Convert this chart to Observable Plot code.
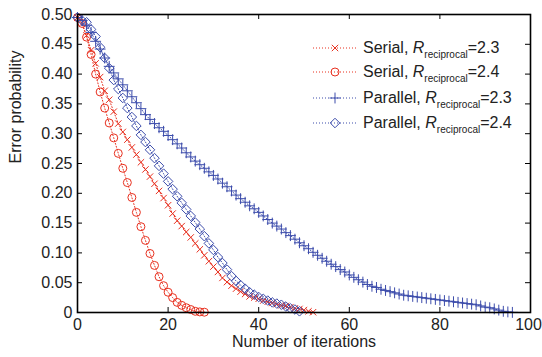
<!DOCTYPE html>
<html><head><meta charset="utf-8">
<script src="https://cdn.jsdelivr.net/npm/d3@7"></script>
<script src="https://cdn.jsdelivr.net/npm/@observablehq/plot@0.6"></script>
<style>body{margin:0;background:#fff} #chart{width:542px;height:357px}</style>
</head><body><div id="chart"></div>
<script>
const seriesNames = ["Serial 2.3", "Serial 2.4", "Parallel 2.3", "Parallel 2.4"];
const legendLabels = [["Serial, ", "2.3"], ["Serial, ", "2.4"], ["Parallel, ", "2.3"], ["Parallel, ", "2.4"]];
const seriesColors = ["#e8301f", "#e8301f", "#3c4cab", "#3c4cab"];
const seriesSymbols = ["times", "circle", "plus", "diamond2"];
const seriesR = [3, 4, 3.6, 4.3];

// error probability at iteration 0,1,2,...
const serial23 = [0.495,0.485,0.465,0.44,0.418,0.395,0.372,0.357,0.337,0.317,0.303,0.29,0.277,0.265,0.252,0.240,0.228,0.216,0.204,0.192,0.180,0.166,0.154,0.145,0.135,0.126,0.116,0.106,0.096,0.086,0.077,0.068,0.058,0.051,0.045,0.040,0.035,0.031,0.027,0.025,0.023,0.020,0.018,0.016,0.014,0.012,0.011,0.009,0.007,0.006,0.004,0.002,0.0005];
const serial24 = [0.495,0.485,0.462,0.433,0.400,0.370,0.343,0.318,0.293,0.267,0.242,0.218,0.193,0.168,0.144,0.121,0.099,0.079,0.060,0.045,0.034,0.025,0.017,0.012,0.008,0.005,0.002,0.001,0.0005];
const parallel23 = [0.495,0.49,0.482,0.47,0.455,0.442,0.427,0.413,0.402,0.392,0.382,0.372,0.362,0.352,0.342,0.332,0.324,0.317,0.310,0.304,0.297,0.290,0.283,0.276,0.268,0.261,0.254,0.248,0.242,0.236,0.230,0.224,0.217,0.211,0.204,0.197,0.191,0.185,0.179,0.174,0.168,0.162,0.156,0.150,0.145,0.140,0.134,0.129,0.123,0.117,0.112,0.107,0.101,0.096,0.091,0.086,0.081,0.077,0.072,0.068,0.063,0.059,0.055,0.051,0.047,0.044,0.042,0.039,0.037,0.035,0.033,0.031,0.029,0.028,0.027,0.026,0.025,0.024,0.023,0.022,0.021,0.020,0.019,0.018,0.017,0.016,0.015,0.014,0.013,0.011,0.009,0.008,0.006,0.004,0.002,0.001,0.0002];
const parallel24 = [0.495,0.49,0.487,0.475,0.463,0.445,0.427,0.41,0.39,0.375,0.36,0.343,0.328,0.313,0.298,0.286,0.273,0.259,0.246,0.233,0.220,0.207,0.195,0.184,0.173,0.162,0.151,0.140,0.128,0.116,0.105,0.093,0.083,0.072,0.061,0.053,0.046,0.040,0.034,0.030,0.026,0.023,0.020,0.017,0.015,0.013,0.010,0.007,0.005,0.002];

const xTicks = [0, 20, 40, 60, 80, 100];
const yTicks = [0, 0.05, 0.10, 0.15, 0.20, 0.25, 0.30, 0.35, 0.40, 0.45, 0.50];
const xLabel = "Number of iterations";
const yLabel = "Error probability";

const allSeries = [serial23, serial24, parallel23, parallel24];
const rows = [];
allSeries.forEach((vals, k) => vals.forEach((v, i) => rows.push({s: seriesNames[k], it: i, p: v})));

const W = 542, H = 357, mL = 77, mR = 12, mT = 14, mB = 45;
const pw = W - mL - mR, ph = H - mT - mB;
const font = "Liberation Sans, Arial, Helvetica, sans-serif";
const fs = 16;
const lastX = xTicks[xTicks.length - 1];

const marks = [
  Plot.line(rows, {x: "it", y: "p", z: "s", stroke: "s", strokeWidth: 1, strokeDasharray: "1 2"}),
  ...seriesNames.map((name, k) => Plot.dot(rows.filter(d => d.s === name), {
    x: "it", y: "p", stroke: seriesColors[k], symbol: () => seriesSymbols[k], r: seriesR[k], strokeWidth: 1, fill: "none"
  })),
  Plot.frame({stroke: "black", strokeWidth: 1.6}),
  Plot.tickX(xTicks, {x: d => d, insetTop: ph - 5, stroke: "black"}),
  Plot.tickX(xTicks, {x: d => d, insetBottom: ph - 5, stroke: "black"}),
  Plot.tickY(yTicks, {y: d => d, insetRight: pw - 5, stroke: "black"}),
  Plot.tickY(yTicks, {y: d => d, insetLeft: pw - 5, stroke: "black"}),
  Plot.axisX(xTicks.filter(d => d !== lastX), {tickSize: 0, tickPadding: 6, label: null, fontSize: fs, fill: "#222"}),
  Plot.axisX([lastX], {tickSize: 0, tickPadding: 6, label: null, fontSize: fs, fill: "#222", dx: -2}),
  Plot.axisY(yTicks, {tickSize: 0, tickPadding: 5, label: null, fontSize: fs, fill: "#222", tickFormat: d => d === 0 ? "0" : d.toFixed(2)}),
  Plot.text([xLabel], {frameAnchor: "bottom", dy: 34, fontSize: fs, fill: "#222"}),
  Plot.text([yLabel], {frameAnchor: "left", dx: -62, rotate: -90, fontSize: fs, fill: "#222"})
];

const chart = Plot.plot({
  width: W, height: H,
  marginLeft: mL, marginRight: mR, marginTop: mT, marginBottom: mB,
  x: {domain: [0, 100]},
  y: {domain: [0, 0.5]},
  color: {domain: seriesNames, range: seriesColors},
  style: {fontFamily: font, fontSize: fs + "px", background: "#fff", overflow: "visible"},
  marks
});
document.getElementById("chart").appendChild(chart);

// legend
const symTypes = {times: d3.symbolTimes, circle: d3.symbolCircle, plus: d3.symbolPlus, diamond2: d3.symbolDiamond2};
const svg = d3.select(chart);
const lg = svg.append("g").attr("font-family", font).attr("font-size", fs).attr("fill", "#222").attr("text-anchor", "start");
const rowY = [48, 72, 98, 123];
seriesNames.forEach((name, k) => {
  const y = rowY[k];
  lg.append("line").attr("x1", 313).attr("x2", 357).attr("y1", y).attr("y2", y)
    .attr("stroke", seriesColors[k]).attr("stroke-dasharray", "1 2");
  lg.append("path").attr("transform", `translate(335,${y})`)
    .attr("d", d3.symbol(symTypes[seriesSymbols[k]], Math.PI * seriesR[k] * seriesR[k])())
    .attr("fill", "none").attr("stroke", seriesColors[k]);
  const t = lg.append("text").attr("x", 363).attr("y", y + 5).attr("text-anchor", "start");
  t.append("tspan").text(legendLabels[k][0]);
  t.append("tspan").attr("font-style", "italic").text("R");
  t.append("tspan").attr("font-size", 10).attr("dy", 5).text("reciprocal");
  t.append("tspan").attr("dy", -5).text("=" + legendLabels[k][1]);
});
</script>
</body></html>
